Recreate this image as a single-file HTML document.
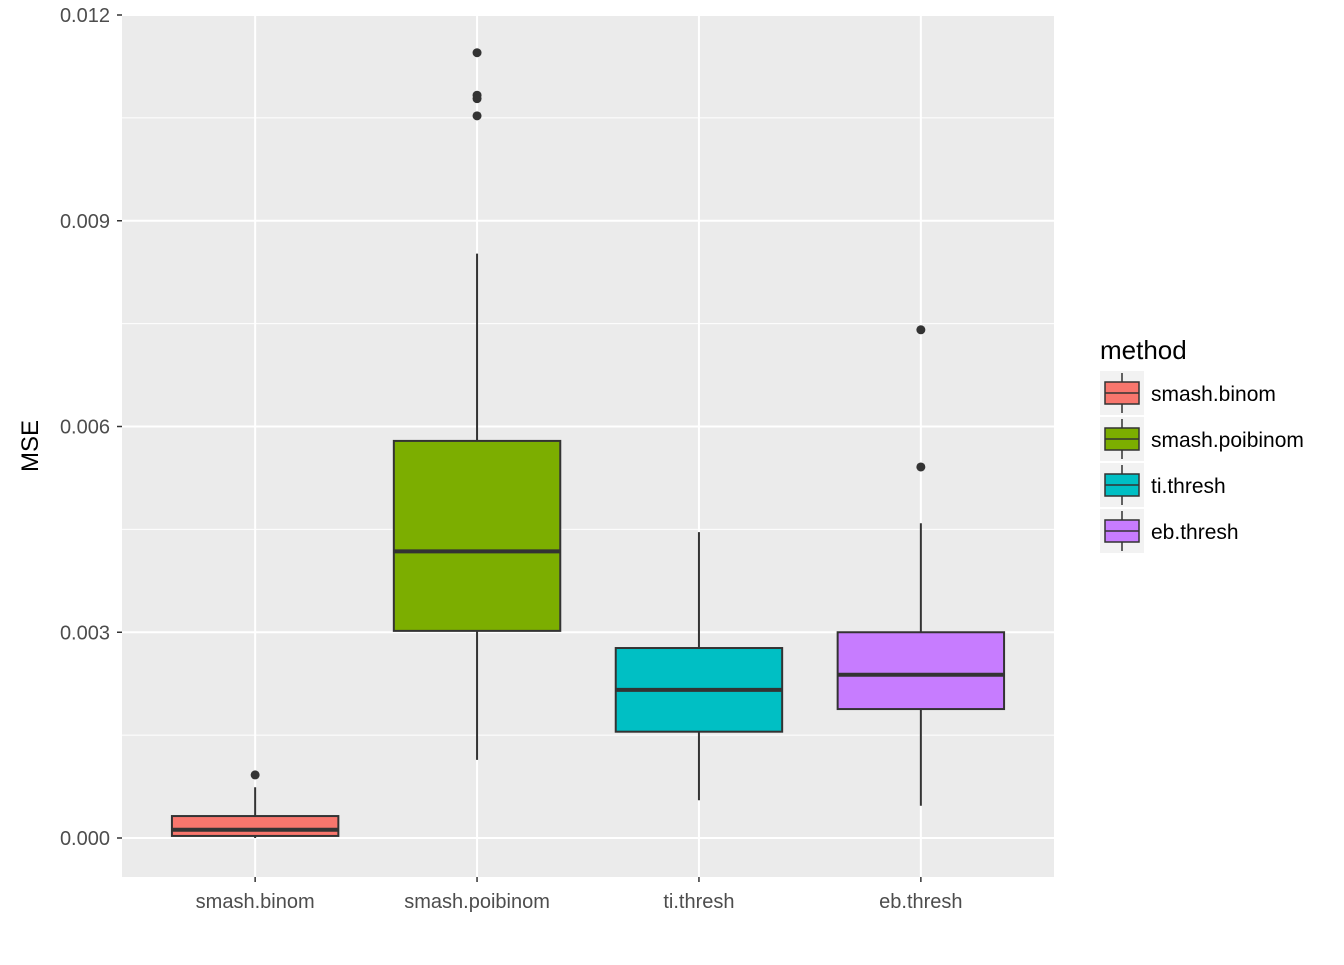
<!DOCTYPE html>
<html><head><meta charset="utf-8"><style>
body{margin:0;background:#fff;font-family:"Liberation Sans",Arial,sans-serif}
</style></head><body>
<svg width="1344" height="960" xmlns="http://www.w3.org/2000/svg" font-family="Liberation Sans, Arial, sans-serif">
<g id="chart"></g>
</svg>
<script>
const categories=["smash.binom","smash.poibinom","ti.thresh","eb.thresh"];
const colors=["#F8766D","#7CAE00","#00BFC4","#C77CFF"];
const whiskerLow=[0.0,0.00114,0.00055,0.00047];
const q1=[0.00003,0.00302,0.00155,0.00188];
const median=[0.00012,0.00418,0.00216,0.00238];
const q3=[0.00032,0.00579,0.00277,0.00300];
const whiskerHigh=[0.00074,0.00852,0.00446,0.00459];
const outliers=[[0.00092],[0.01145,0.01083,0.01078,0.01053],[],[0.00741,0.00541]];
const yTicks=[0,0.003,0.006,0.009,0.012];
const yTickLabels=["0.000","0.003","0.006","0.009","0.012"];

const NS="http://www.w3.org/2000/svg";
const g=document.getElementById('chart');
const L=122,R=1054,T=14,B=877;
function y(v){return 838-(v/0.003)*205.75;}
function x(i){return L+(R-L)*(i+0.5+0.1)/4.2;}
const step=(R-L)/4.2;
function mk(tag,attrs,name,parent){const e=document.createElementNS(NS,tag);for(const k in attrs)e.setAttribute(k,attrs[k]);


(parent||g).appendChild(e);return e;}
mk('rect',{x:L,y:T,width:R-L,height:B-T,fill:"#EBEBEB"},'plot-panel');
for(let i=0;i<yTicks.length-1;i++){const v=(yTicks[i]+yTicks[i+1])/2;mk('line',{x1:L,x2:R,y1:y(v),y2:y(v),stroke:"#fff","stroke-width":1},'minor-gridline');}
yTicks.forEach((v,i)=>{mk('line',{x1:L,x2:R,y1:y(v),y2:y(v),stroke:"#fff","stroke-width":2},'major-gridline');
mk('line',{x1:L-5,x2:L,y1:y(v),y2:y(v),stroke:"#333","stroke-width":1.5},'y-tick');
const t=mk('text',{x:L-12,y:y(v)+7,"text-anchor":"end","font-size":20,fill:"#4D4D4D"},'y-tick-label');t.textContent=yTickLabels[i];});
categories.forEach((c,i)=>{const cx=x(i);
mk('line',{x1:cx,x2:cx,y1:T,y2:B,stroke:"#fff","stroke-width":2},'x-gridline');
mk('line',{x1:cx,x2:cx,y1:B,y2:B+5,stroke:"#333","stroke-width":1.5},'x-tick');
const t=mk('text',{x:cx,y:B+31,"text-anchor":"middle","font-size":20,fill:"#4D4D4D"},'x-tick-label');t.textContent=c;});
categories.forEach((c,i)=>{const cx=x(i),w=step*0.75;
const grp=mk('g',{},'box-'+c);
mk('line',{x1:cx,x2:cx,y1:y(whiskerLow[i]),y2:y(q1[i]),stroke:"#333","stroke-width":2},'whisker-low',grp);
mk('line',{x1:cx,x2:cx,y1:y(q3[i]),y2:y(whiskerHigh[i]),stroke:"#333","stroke-width":2},'whisker-high',grp);
mk('rect',{x:cx-w/2,y:y(q3[i]),width:w,height:y(q1[i])-y(q3[i]),fill:colors[i],stroke:"#333","stroke-width":2},'box-body',grp);
mk('line',{x1:cx-w/2,x2:cx+w/2,y1:y(median[i]),y2:y(median[i]),stroke:"#333","stroke-width":4},'median-line',grp);
outliers[i].forEach(o=>mk('circle',{cx:cx,cy:y(o),r:4.5,fill:"#333"},'outlier',grp));});
const yt=mk('text',{x:38,y:446,"text-anchor":"middle","font-size":24,fill:"#000",transform:"rotate(-90 38 446)"},'y-axis-title');yt.textContent="MSE";
const lt=mk('text',{x:1100,y:359,"font-size":26,fill:"#000"},'legend-title');lt.textContent="method";
categories.forEach((c,i)=>{const ky=371+i*46;
const grp=mk('g',{},'legend-entry');
mk('rect',{x:1100,y:ky,width:44,height:44,fill:"#F2F2F2"},'legend-key-bg',grp);
mk('line',{x1:1122,x2:1122,y1:ky+2,y2:ky+42,stroke:"#333","stroke-width":1.5},'legend-whisker',grp);
mk('rect',{x:1105,y:ky+11,width:34,height:22,fill:colors[i],stroke:"#333","stroke-width":1.5},'legend-key',grp);
mk('line',{x1:1105,x2:1139,y1:ky+22,y2:ky+22,stroke:"#333","stroke-width":1.5},'legend-median',grp);
const t=mk('text',{x:1151,y:ky+30,"font-size":21,fill:"#000"},'legend-label',grp);t.textContent=c;});
</script>
</body></html>
